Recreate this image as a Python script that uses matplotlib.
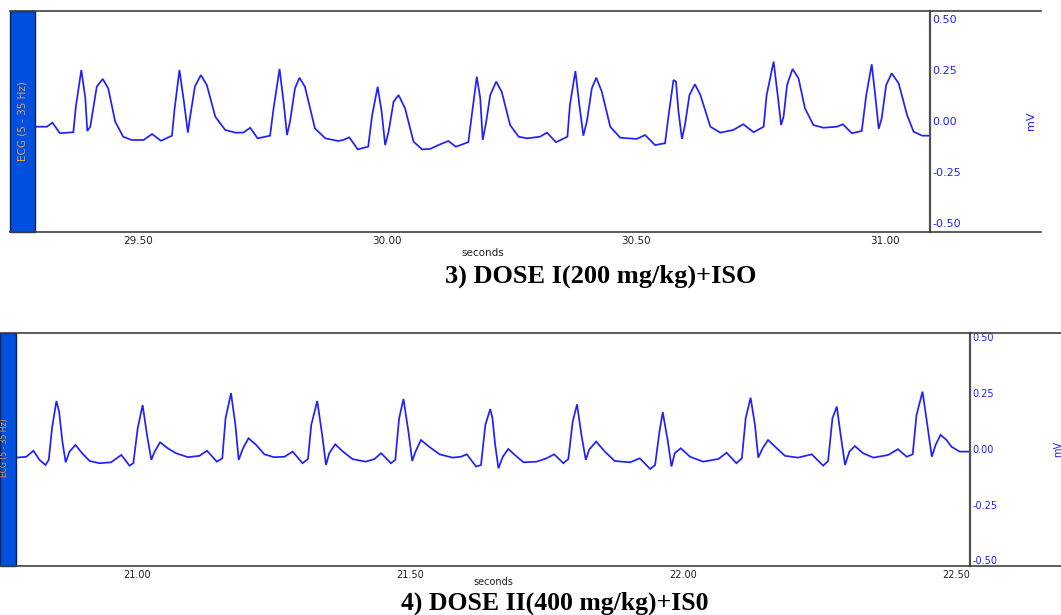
import matplotlib
matplotlib.use("Agg")
import matplotlib.pyplot as plt
from matplotlib.lines import Line2D
from matplotlib.patches import Rectangle

W, H = 1061, 615

# 3) DOSE I trace, seconds / mV
t_dose1 = [29.293, 29.317, 29.328, 29.343, 29.370, 29.375, 29.386, 29.394, 29.398, 29.404,
           29.417, 29.429, 29.440, 29.454, 29.470, 29.487, 29.511, 29.528, 29.546, 29.568,
           29.573, 29.583, 29.592, 29.600, 29.604, 29.614, 29.626, 29.638, 29.655, 29.675,
           29.695, 29.711, 29.725, 29.740, 29.765, 29.772, 29.784, 29.792, 29.799, 29.805,
           29.815, 29.824, 29.835, 29.855, 29.876, 29.902, 29.912, 29.924, 29.941, 29.962,
           29.970, 29.981, 29.989, 29.996, 30.003, 30.013, 30.023, 30.036, 30.053, 30.070,
           30.086, 30.103, 30.123, 30.138, 30.163, 30.170, 30.180, 30.187, 30.192, 30.199,
           30.207, 30.219, 30.230, 30.247, 30.264, 30.281, 30.307, 30.321, 30.339, 30.362,
           30.367, 30.378, 30.386, 30.394, 30.401, 30.411, 30.420, 30.431, 30.448, 30.468,
           30.501, 30.518, 30.538, 30.558, 30.567, 30.575, 30.580, 30.585, 30.592, 30.598,
           30.607, 30.618, 30.629, 30.649, 30.669, 30.695, 30.715, 30.736, 30.756, 30.762,
           30.776, 30.785, 30.791, 30.796, 30.803, 30.814, 30.826, 30.839, 30.856, 30.876,
           30.903, 30.915, 30.933, 30.953, 30.962, 30.973, 30.980, 30.987, 30.993, 31.002,
           31.013, 31.027, 31.044, 31.057, 31.074, 31.090]
mv_dose1 = [-0.028, -0.028, -0.008, -0.060, -0.055, 0.070, 0.250, 0.113, -0.049, -0.028,
            0.168, 0.206, 0.160, -0.003, -0.077, -0.093, -0.093, -0.064, -0.097, -0.072,
            0.054, 0.250, 0.095, -0.057, 0.013, 0.168, 0.225, 0.176, 0.021, -0.044,
            -0.057, -0.057, -0.033, -0.085, -0.072, 0.062, 0.255, 0.095, -0.069, -0.003,
            0.160, 0.212, 0.168, -0.036, -0.085, -0.098, -0.093, -0.080, -0.139, -0.126,
            0.029, 0.168, 0.046, -0.118, -0.052, 0.095, 0.127, 0.062, -0.101, -0.139,
            -0.137, -0.118, -0.098, -0.126, -0.104, 0.029, 0.217, 0.111, -0.093, -0.003,
            0.127, 0.193, 0.144, -0.020, -0.077, -0.085, -0.077, -0.057, -0.104, -0.077,
            0.078, 0.245, 0.078, -0.072, -0.003, 0.160, 0.212, 0.144, -0.028, -0.082,
            -0.088, -0.069, -0.118, -0.109, 0.062, 0.201, 0.193, 0.046, -0.088, -0.020,
            0.127, 0.180, 0.127, -0.028, -0.057, -0.044, -0.016, -0.055, -0.028, 0.127,
            0.291, 0.111, -0.020, 0.021, 0.176, 0.255, 0.209, 0.062, -0.020, -0.033,
            -0.028, -0.016, -0.060, -0.049, 0.127, 0.278, 0.127, -0.039, 0.013, 0.176,
            0.234, 0.185, 0.029, -0.052, -0.072, -0.072]

# 4) DOSE II trace, seconds / mV
t_dose2 = [20.778, 20.797, 20.810, 20.821, 20.832, 20.838, 20.844, 20.852, 20.857, 20.863,
           20.869, 20.876, 20.887, 20.899, 20.913, 20.931, 20.952, 20.971, 20.986, 20.993,
           21.001, 21.010, 21.018, 21.026, 21.032, 21.042, 21.056, 21.071, 21.093, 21.114,
           21.128, 21.146, 21.156, 21.162, 21.172, 21.180, 21.186, 21.194, 21.204, 21.218,
           21.233, 21.251, 21.270, 21.285, 21.303, 21.313, 21.319, 21.330, 21.339, 21.346,
           21.352, 21.363, 21.377, 21.395, 21.419, 21.435, 21.447, 21.465, 21.473, 21.480,
           21.488, 21.497, 21.504, 21.510, 21.520, 21.535, 21.554, 21.578, 21.593, 21.604,
           21.621, 21.630, 21.638, 21.647, 21.651, 21.656, 21.662, 21.670, 21.680, 21.692,
           21.708, 21.732, 21.750, 21.764, 21.781, 21.790, 21.798, 21.806, 21.814, 21.822,
           21.828, 21.841, 21.857, 21.875, 21.903, 21.921, 21.940, 21.949, 21.957, 21.963,
           21.972, 21.979, 21.985, 21.996, 22.013, 22.037, 22.065, 22.080, 22.098, 22.108,
           22.115, 22.124, 22.132, 22.138, 22.146, 22.156, 22.172, 22.187, 22.211, 22.236,
           22.257, 22.266, 22.274, 22.282, 22.289, 22.297, 22.305, 22.315, 22.330, 22.349,
           22.376, 22.394, 22.410, 22.421, 22.428, 22.439, 22.447, 22.456, 22.463, 22.472,
           22.483, 22.492, 22.507, 22.526]
mv_dose2 = [-0.039, -0.035, -0.008, -0.049, -0.072, -0.049, 0.093, 0.215, 0.167, 0.033,
            -0.060, -0.012, 0.018, -0.019, -0.054, -0.064, -0.060, -0.027, -0.075, -0.064,
            0.093, 0.197, 0.063, -0.049, -0.012, 0.030, 0.003, -0.019, -0.037, -0.031,
            -0.008, -0.057, -0.042, 0.138, 0.250, 0.108, -0.049, 0.003, 0.048, 0.018,
            -0.024, -0.037, -0.035, -0.012, -0.064, -0.045, 0.108, 0.215, 0.063, -0.072,
            -0.019, 0.021, -0.012, -0.046, -0.057, -0.045, -0.019, -0.064, -0.049, 0.138,
            0.224, 0.078, -0.054, -0.012, 0.040, 0.010, -0.024, -0.039, -0.035, -0.024,
            -0.079, -0.072, 0.108, 0.179, 0.138, 0.018, -0.087, -0.035, 0.000, -0.027,
            -0.060, -0.057, -0.042, -0.024, -0.064, -0.045, 0.122, 0.200, 0.063, -0.049,
            -0.004, 0.033, -0.012, -0.054, -0.060, -0.042, -0.090, -0.072, 0.078, 0.165,
            0.040, -0.079, -0.019, 0.003, -0.035, -0.057, -0.045, -0.017, -0.064, -0.042,
            0.138, 0.230, 0.108, -0.039, 0.003, 0.040, 0.003, -0.031, -0.039, -0.024,
            -0.075, -0.054, 0.138, 0.190, 0.063, -0.072, -0.012, 0.013, -0.019, -0.039,
            -0.027, -0.001, -0.035, -0.024, 0.152, 0.257, 0.122, -0.035, 0.018, 0.063,
            0.040, 0.010, -0.012, -0.012]

sec_ticks1 = [29.50, 30.00, 30.50, 31.00]
sec_ticks2 = [21.00, 21.50, 22.00, 22.50]
mv_ticks = [-0.50, -0.25, 0.00, 0.25, 0.50]
channel = "ECG (5 - 35 Hz)"
title1 = "3) DOSE I(200 mg/kg)+ISO"
title2 = "4) DOSE II(400 mg/kg)+IS0"

TRACE = "#2020ff"
FRAME = "#404040"


def fx(x):
    return x / W


def fy(y):
    return 1 - y / H


def panel(fig, t, mv, ticks, box, strip_x0, line_x1, xlim, ylim, sizes, lpad):
    x0, x1, y0, y1 = box
    ax = fig.add_axes([fx(x0), fy(y1), (x1 - x0) / W, (y1 - y0) / H])
    ax.plot(t, mv, color=TRACE, linewidth=1.25, solid_joinstyle="miter")
    ax.set_xlim(*xlim)
    ax.set_ylim(*ylim)
    ax.set_xticks(ticks)
    ax.set_xticklabels([f"{v:.2f}" for v in ticks], fontsize=sizes[0], color="#202020")
    ax.yaxis.tick_right()
    ax.set_yticks(mv_ticks)
    ax.set_yticklabels([f"{v:.2f}" for v in mv_ticks], fontsize=sizes[1], color=TRACE)
    ax.tick_params(axis="x", length=0, pad=3)
    ax.tick_params(axis="y", length=0, pad=1.5)
    ax.set_xlabel("seconds", fontsize=sizes[0], color="#202020", labelpad=lpad)
    for s in ["top", "bottom", "left"]:
        ax.spines[s].set_visible(False)
    ax.spines["right"].set_color("#505050")
    ax.spines["right"].set_linewidth(1.6)

    # frame lines running past the plot
    for yy in (y0, y1):
        fig.add_artist(Line2D([fx(strip_x0), fx(line_x1)], [fy(yy), fy(yy)],
                              color=FRAME, linewidth=1.2))
    # channel strip
    fig.add_artist(Rectangle((fx(strip_x0), fy(y1)), (x0 - strip_x0) / W, (y1 - y0) / H,
                             facecolor="#0050e0", edgecolor="#102050", linewidth=1.0))
    return ax


fig = plt.figure(figsize=(W / 100, H / 100), dpi=100)

panel(fig, t_dose1, mv_dose1, sec_ticks1, (35, 930, 11, 232), 10, 1041,
      (29.293, 31.090), (-0.544, 0.539), (7.5, 8), 1)
fig.text(fx(23), fy(121), channel, rotation=90, ha="center", va="center",
         fontsize=7.5, color="#e8a040")
fig.text(fx(1031), fy(121), "mV", rotation=90, ha="center", va="center",
         fontsize=8, color=TRACE)
fig.text(fx(601), fy(276), title1, ha="center", va="center", fontsize=19,
         fontweight="bold", family="Liberation Serif")

panel(fig, t_dose2, mv_dose2, sec_ticks2, (16, 970, 333, 566), 0, 1061,
      (20.778, 22.526), (-0.525, 0.520), (7, 7), -2)
fig.text(fx(5), fy(448), channel, rotation=90, ha="center", va="center",
         fontsize=5.5, color="#e8a040")
fig.text(fx(1058), fy(449), "mV", rotation=90, ha="center", va="center",
         fontsize=7, color=TRACE)
fig.text(fx(555), fy(603), title2, ha="center", va="center", fontsize=18.5,
         fontweight="bold", family="Liberation Serif")

fig.savefig("out.png", dpi=100)
